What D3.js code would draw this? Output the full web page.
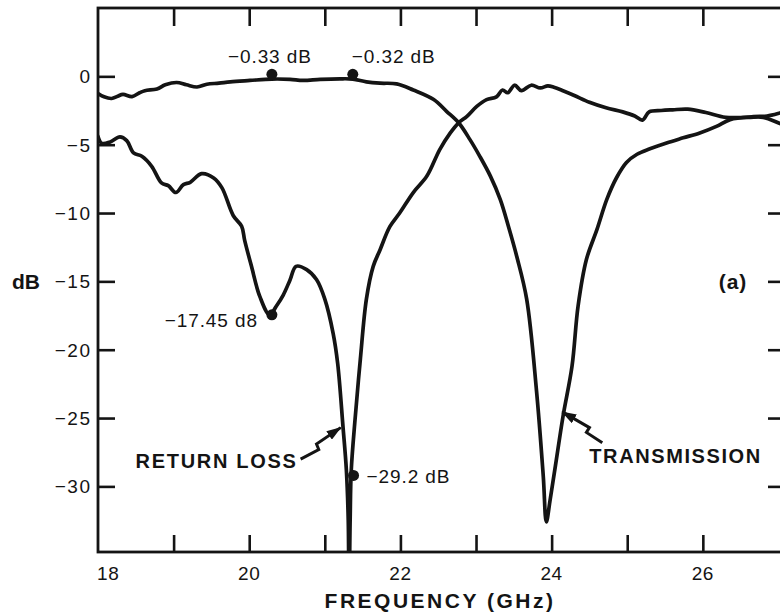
<!DOCTYPE html>
<html><head><meta charset="utf-8">
<script src="https://cdn.jsdelivr.net/npm/d3@7"></script>
<style>
body{margin:0;background:#fff;}
svg{display:block;background:#fff;}
text{font-family:"Liberation Sans",Arial,Helvetica,sans-serif;fill:#141414;}
</style></head><body>
<svg id="chart" width="780" height="615"></svg>
<script>
// ---------- data ----------
const transFreq = [18.00,18.08,18.18,18.26,18.33,18.45,18.55,18.62,18.78,18.89,19.04,19.17,19.31,19.44,19.60,19.75,20.01,20.30,20.54,20.71,20.94,21.20,21.37,21.55,21.73,21.95,22.17,22.44,22.61,22.77,22.92,23.05,23.19,23.32,23.43,23.54,23.67,23.80,23.89,23.93,23.98,24.05,24.15,24.27,24.35,24.46,24.60,24.73,24.86,24.99,25.13,25.30,25.52,25.74,25.96,26.18,26.36,26.67,26.85,27.02,27.10];
const transDb   = [-1.25,-1.5,-1.62,-1.45,-1.32,-1.48,-1.2,-1.05,-0.92,-0.62,-0.45,-0.62,-0.78,-0.58,-0.5,-0.4,-0.3,-0.2,-0.22,-0.3,-0.22,-0.18,-0.2,-0.4,-0.5,-0.55,-1.0,-1.7,-2.56,-3.4,-4.63,-5.85,-7.3,-9.0,-11.0,-13.2,-16.3,-23.0,-29.3,-32.6,-31.0,-28.5,-24.9,-21.2,-16.8,-13.4,-11.2,-9.0,-7.4,-6.3,-5.7,-5.3,-4.87,-4.5,-4.14,-3.66,-3.17,-2.95,-2.9,-2.68,-2.55];

const rlFreq = [18.00,18.05,18.16,18.29,18.38,18.47,18.58,18.71,18.84,18.93,19.03,19.13,19.22,19.37,19.53,19.64,19.79,19.90,19.94,20.03,20.14,20.27,20.36,20.45,20.54,20.62,20.76,20.89,21.00,21.11,21.17,21.24,21.285,21.31,21.32,21.335,21.35,21.40,21.47,21.55,21.64,21.73,21.86,21.99,22.17,22.35,22.52,22.66,22.77,22.88,23.01,23.14,23.27,23.35,23.42,23.51,23.60,23.73,23.85,23.95,24.03,24.15,24.30,24.50,24.72,24.94,25.10,25.20,25.29,25.45,25.60,25.80,26.04,26.30,26.60,26.80,27.02,27.10];
const rlDb   = [-4.4,-4.9,-4.8,-4.43,-4.7,-5.6,-5.85,-6.58,-7.8,-8.0,-8.5,-7.92,-7.75,-7.12,-7.43,-8.16,-10.2,-10.97,-12.0,-13.9,-16.1,-17.45,-16.8,-16.0,-14.9,-13.9,-14.14,-14.87,-16.3,-18.8,-21.0,-25.6,-28.8,-32.5,-38,-32.5,-28.8,-25.1,-20.7,-16.3,-13.9,-12.7,-11.0,-10.0,-8.5,-7.3,-5.36,-4.14,-3.4,-2.93,-2.2,-1.7,-1.5,-1.0,-1.2,-0.65,-1.05,-0.65,-0.85,-0.7,-0.8,-1.05,-1.4,-1.9,-2.3,-2.6,-2.9,-3.2,-2.6,-2.5,-2.45,-2.4,-2.65,-3.0,-3.0,-3.0,-3.45,-3.6];

const xTickValues  = [19,20,21,22,23,24,25,26];
const xLabelValues = [18,20,22,24,26];
const yTickValues  = [0,-5,-10,-15,-20,-25,-30];

const markerFreq   = [20.30, 21.37, 20.30, 21.38];
const markerDb     = [0.15, 0.15, -17.45, -29.2];
const markerLabels = ["\u22120.33 dB", "\u22120.32 dB", "\u221217.45 d8", "\u221229.2 dB"];

const curveNames   = ["RETURN LOSS", "TRANSMISSION"];
const rlArrowFreq  = [20.68, 20.92, 20.89, 21.21];
const rlArrowDb    = [-28.0, -27.3, -26.9, -25.7];
const trArrowFreq  = [24.67, 24.46, 24.50, 24.14];
const trArrowDb    = [-26.8, -26.05, -25.7, -24.55];

const xTitle = "FREQUENCY (GHz)";
const yTitle = "dB";
const panelTag = "(a)";

// ---------- layout ----------
const svg = d3.select("#chart");
const L = 98, R = 786, T = 8, B = 552;
const x = d3.scaleLinear().domain([18, 27.1]).range([L, R]);
const y = d3.scaleLinear().domain([5, -34.8]).range([T, B]);
const ink = "#141414";

const defs = svg.append("defs");
defs.append("clipPath").attr("id","plotclip")
  .append("rect").attr("x",L).attr("y",T).attr("width",R-L).attr("height",B-T);
const marker = defs.append("marker")
  .attr("id","arrowhead").attr("viewBox","0 0 15 10").attr("refX",14).attr("refY",5)
  .attr("markerUnits","userSpaceOnUse").attr("markerWidth",15).attr("markerHeight",10)
  .attr("orient","auto");
marker.append("path").attr("d","M0,0 L15,5 L0,10 Z").attr("fill",ink);

// axes (ticks pointing inward)
function styleAxis(g){
  g.selectAll(".domain").remove();
  g.selectAll(".tick line").attr("stroke",ink).attr("stroke-width",2.6);
}
svg.append("g").attr("transform",`translate(0,${B})`)
  .call(d3.axisBottom(x).tickValues(xTickValues).tickSize(-17).tickFormat("")).call(styleAxis);
svg.append("g").attr("transform",`translate(0,${T})`)
  .call(d3.axisTop(x).tickValues(xTickValues).tickSize(-18).tickFormat("")).call(styleAxis);
svg.append("g").attr("transform",`translate(${L},0)`)
  .call(d3.axisLeft(y).tickValues(yTickValues).tickSize(-17).tickFormat("")).call(styleAxis);
svg.append("g").attr("transform",`translate(${R},0)`)
  .call(d3.axisRight(y).tickValues(yTickValues).tickSize(-18).tickFormat("")).call(styleAxis);

// frame
svg.append("rect").attr("x",L).attr("y",T).attr("width",R-L).attr("height",B-T)
  .attr("fill","none").attr("stroke",ink).attr("stroke-width",2.8);

// tick labels
svg.append("g").selectAll("text").data(xLabelValues).join("text")
  .attr("x",(d,i)=> i===0 ? x(d)-1 : x(d))
  .attr("y",580)
  .attr("text-anchor",(d,i)=> i===0 ? "start" : "middle")
  .attr("font-size",19).attr("letter-spacing",0.6)
  .text(d=>d);
svg.append("g").selectAll("text").data(yTickValues).join("text")
  .attr("x",91.5).attr("y",d=>y(d)).attr("dy","0.36em")
  .attr("text-anchor","end").attr("font-size",19).attr("letter-spacing",1.5)
  .text(d=> d===0 ? "0" : "\u2212"+Math.abs(d));

// titles
svg.append("text").attr("x",440).attr("y",608).attr("text-anchor","middle")
  .attr("font-size",21).attr("font-weight","bold").attr("letter-spacing",2.5).text(xTitle);
svg.append("text").attr("x",12).attr("y",y(-15)).attr("dy","0.36em")
  .attr("font-size",21).attr("font-weight","bold").text(yTitle);
svg.append("text").attr("x",733).attr("y",y(-15)).attr("dy","0.36em").attr("text-anchor","middle")
  .attr("font-size",21).attr("font-weight","bold").attr("letter-spacing",1).text(panelTag);

// curves
const line = d3.line().x(d=>x(d[0])).y(d=>y(d[1])).curve(d3.curveCatmullRom.alpha(0.5));
const plot = svg.append("g").attr("clip-path","url(#plotclip)");
const series = [d3.zip(rlFreq, rlDb), d3.zip(transFreq, transDb)];
plot.selectAll("path.curve").data(series).join("path").attr("class","curve")
  .attr("d",line).attr("fill","none").attr("stroke",ink)
  .attr("stroke-width",3.7).attr("stroke-linejoin","round").attr("stroke-linecap","round");

// markers
const mk = d3.zip(markerFreq, markerDb, markerLabels);
svg.append("g").selectAll("circle").data(mk).join("circle")
  .attr("cx",d=>x(d[0])).attr("cy",d=>y(d[1])).attr("r",5.5).attr("fill",ink);
const labelPlace = [
  {dx:-2, dy:-11, anchor:"middle"},
  {dx:-1, dy:-11, anchor:"start"},
  {dx:-14, dy:12, anchor:"end"},
  {dx:13, dy:8, anchor:"start"}
];
svg.append("g").selectAll("text").data(mk).join("text")
  .attr("x",(d,i)=>x(d[0])+labelPlace[i].dx)
  .attr("y",(d,i)=>y(d[1])+labelPlace[i].dy)
  .attr("text-anchor",(d,i)=>labelPlace[i].anchor)
  .attr("font-size",19).attr("letter-spacing",0.9)
  .text(d=>d[2]);

// curve name labels with lightning arrows
const arrowLine = d3.line().x(d=>x(d[0])).y(d=>y(d[1]));
[d3.zip(rlArrowFreq, rlArrowDb), d3.zip(trArrowFreq, trArrowDb)].forEach(pts=>{
  svg.append("path").attr("d",arrowLine(pts)).attr("fill","none")
    .attr("stroke",ink).attr("stroke-width",3).attr("stroke-linejoin","miter")
    .attr("marker-end","url(#arrowhead)");
});
svg.append("text").attr("x",x(rlArrowFreq[0])-3).attr("y",y(rlArrowDb[0])+9)
  .attr("text-anchor","end").attr("font-size",20).attr("font-weight","bold")
  .attr("letter-spacing",1.7).text(curveNames[0]);
svg.append("text").attr("x",x(trArrowFreq[0])-13).attr("y",y(trArrowDb[0])+20)
  .attr("text-anchor","start").attr("font-size",20).attr("font-weight","bold")
  .attr("letter-spacing",1.6).text(curveNames[1]);
</script>
</body></html>
